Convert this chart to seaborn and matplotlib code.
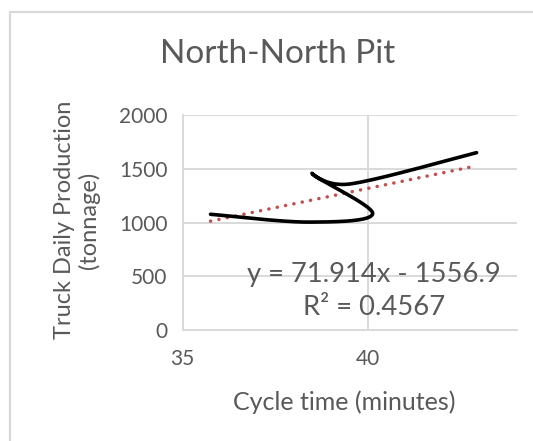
import numpy as np
import pandas as pd
import matplotlib
matplotlib.use("Agg")
import matplotlib.pyplot as plt
import seaborn as sns
from matplotlib.patches import Rectangle

# ---- data ----
cycle_time = [35.75, 38.4, 40.12, 38.5, 39.5, 42.92]
production = [1078, 1005, 1085, 1452, 1360, 1652]
trend_slope = 71.914
trend_intercept = -1556.9
r_squared = 0.4567
x_ticks = [35, 40]
y_ticks = [0, 500, 1000, 1500, 2000]
title = "North-North Pit"
x_label = "Cycle time (minutes)"
y_label = "Truck Daily Production\n(tonnage)"


def excel_smooth(xs, ys, n=60):
    P = np.column_stack([xs, ys]).astype(float)
    m = len(P)
    out = []
    t = np.linspace(0, 1, n)[:, None]
    for i in range(m - 1):
        p0 = P[i - 1] if i > 0 else P[i]
        p1, p2 = P[i], P[i + 1]
        p3 = P[i + 2] if i + 2 < m else P[i + 1]
        c1 = p1 + (p2 - p0) / 6
        c2 = p2 - (p3 - p1) / 6
        seg = (1 - t) ** 3 * p1 + 3 * (1 - t) ** 2 * t * c1 + 3 * (1 - t) * t ** 2 * c2 + t ** 3 * p2
        out.append(seg if i == 0 else seg[1:])
    return np.vstack(out)


sns.set_theme(style="white")
plt.rcParams["font.family"] = ["Lato", "DejaVu Sans"]
TXT = "#595959"
GRID = "#d9d9d9"

W, H = 533, 441
fig = plt.figure(figsize=(W / 100, H / 100), dpi=100)
fig.patch.set_facecolor("white")

# outer chart border (partly cropped in the reference)
fig.patches.append(Rectangle((10 / W, -0.2), 1.2, (H - 12) / H + 0.2,
                             transform=fig.transFigure, fill=False,
                             edgecolor=GRID, linewidth=1.6))

ax = fig.add_axes([182.7 / W, (H - 330) / H, (517 - 182.7) / W, (330 - 115.3) / H])
ax.set_facecolor("none")

smooth = excel_smooth(cycle_time, production)
df_s = pd.DataFrame({"x": smooth[:, 0], "y": smooth[:, 1]})
sns.lineplot(data=df_s, x="x", y="y", sort=False, estimator=None, ax=ax,
             color="black", linewidth=2.6, solid_capstyle="round", zorder=3)

tx = np.array([min(cycle_time), max(cycle_time)])
df_t = pd.DataFrame({"x": tx, "y": trend_slope * tx + trend_intercept})
sns.lineplot(data=df_t, x="x", y="y", ax=ax, color="#c0504d", linewidth=2.5,
             linestyle=(0, (0.05, 2.4)), dash_capstyle="round", zorder=2)

ax.set_xlim(35, 44.01)
ax.set_ylim(0, 2000)
ax.set_xticks(x_ticks)
ax.set_yticks(y_ticks)
ax.set_xticklabels([str(v) for v in x_ticks])
ax.set_yticklabels([str(v) for v in y_ticks])
ax.grid(True, color=GRID, linewidth=1.4)
ax.set_axisbelow(True)
for s in ["top", "right"]:
    ax.spines[s].set_visible(False)
for s in ["left", "bottom"]:
    ax.spines[s].set_color(GRID)
    ax.spines[s].set_linewidth(1.4)
ax.tick_params(axis="both", length=0, colors=TXT, labelsize=15)
ax.tick_params(axis="y", pad=11)
ax.tick_params(axis="x", pad=14)

ax.set_xlabel(x_label, fontsize=18, color=TXT, va="center")
ax.xaxis.set_label_coords((344 - 182.7) / (517 - 182.7), (330 - 402) / (330 - 115.3))
ax.set_ylabel(y_label, fontsize=17, color=TXT, va="center", ha="center", linespacing=1.15)
ax.yaxis.set_label_coords((77 - 182.7) / (517 - 182.7), (330 - 220) / (330 - 115.3))

fig.text(278 / W, 1 - 63 / H, title, fontsize=24, color=TXT, ha="center", va="baseline")
fig.text(374 / W, 1 - 282 / H, f"y = {trend_slope}x - {abs(trend_intercept)}",
         fontsize=19.7, color=TXT, ha="center", va="baseline")
fig.text(374.5 / W, 1 - 315 / H, f"R² = {r_squared}",
         fontsize=19.7, color=TXT, ha="center", va="baseline")

fig.savefig("out.png", dpi=100)
